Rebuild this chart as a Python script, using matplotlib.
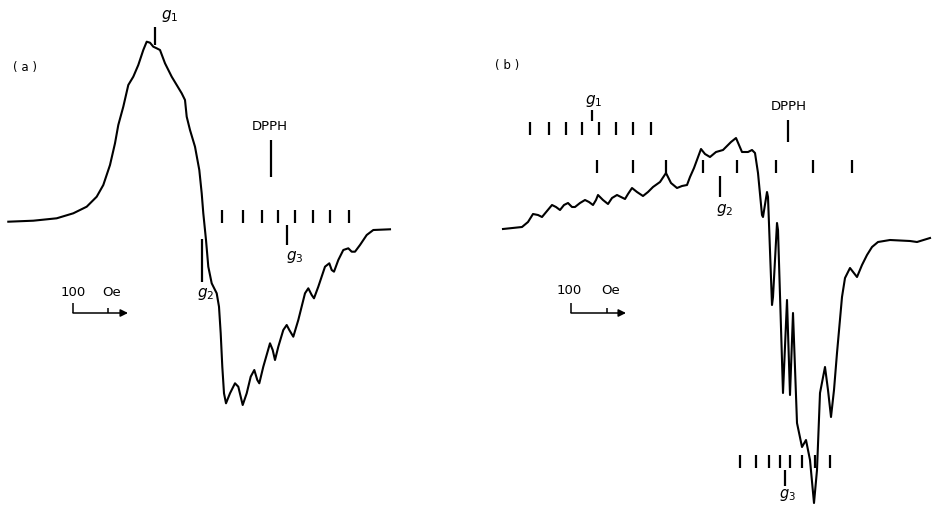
import matplotlib
matplotlib.use("Agg")
import matplotlib.pyplot as plt
import numpy as np

# traced spectra, in picture units (field -> right, signal -> down)
field_a = [8.3, 33.3, 56.7, 73.3, 86.7, 96.7, 103.3, 110, 115, 118.3, 123.3, 128.3, 133.3,
           138.3, 143.3, 146.7, 150, 153.3, 156.7, 160, 165, 171.7, 176.7, 181.7, 185, 186.7,
           190, 195, 199.3, 201.7, 203.3, 206, 208.3, 211.7, 216.7, 219, 220.7, 222.3, 224,
           226, 230, 235, 238.3, 242.7, 246.7, 250.7, 254.3, 257.3, 259.3, 263.3, 270, 272.7,
           275, 278.3, 283.3, 286.7, 289.3, 293.3, 298.3, 305, 308.3, 311.7, 314, 318.3, 325,
           329.3, 331.7, 334, 338.3, 343.3, 348.3, 351.7, 355, 360, 366.7, 373.3, 390]
signal_a = [221.7, 220.7, 218.3, 213.3, 206.7, 196.7, 185, 165, 143.3, 125, 106.7, 85, 76.7,
            65, 50, 41.7, 42.7, 46.7, 48.3, 50, 63.3, 76.7, 85, 93.3, 100, 116.7,
            130, 146.7, 170, 193.3, 213.3, 240, 266.7, 283.3, 293.3, 306.7, 333.3, 366.7, 393.3,
            403.3, 393.3, 383.3, 386.7, 405, 393.3, 376.7, 370, 380, 383.3, 366.7, 343.3, 350,
            360, 346.7, 330, 325, 330, 336.7, 320, 293.3, 288.3, 295, 298.3, 286.7, 266.7,
            263.3, 270, 271.7, 260, 250, 248.3, 251.7, 251.7, 245, 235, 230, 229.3]

field_b = [503, 522, 528, 533, 538, 542, 547, 552, 556, 560, 564, 568, 572, 575, 580, 585, 589,
           593, 596, 598, 603, 608, 612, 617, 621, 625, 628, 632, 637, 643, 648, 653, 660, 666,
           671, 677, 682, 687, 690, 694, 701, 705, 710, 716, 723, 731, 736, 742, 748, 752, 755,
           758, 762, 763, 767, 768, 772, 773, 777, 778, 783, 787, 790, 793, 797, 802, 806, 810,
           814, 817, 820, 825, 828, 831, 834, 837, 842, 845, 850, 857, 862, 867, 872, 878, 890,
           910, 917, 930]
signal_b = [229, 227, 222, 214, 215, 217, 211, 205, 207, 210, 205, 203, 207, 207, 203, 200, 202,
            205, 200, 195, 200, 204, 198, 195, 197, 199, 194, 188, 192, 196, 192, 187, 182, 173,
            183, 188, 186, 185, 177, 168, 149, 154, 157, 152, 150, 142, 138, 152, 152, 150, 153,
            173, 215, 217, 192, 197, 305, 297, 223, 230, 393, 300, 395, 313, 423, 447, 440, 460,
            503, 470, 393, 367, 390, 417, 390, 353, 297, 278, 268, 277, 265, 255, 247, 242, 240,
            241, 242, 238]

# hyperfine stick positions
ticks_a = [222, 243, 262, 278, 295, 313, 330, 349]
ticks_b_upper = [530, 549, 566, 582, 599, 616, 633, 651]
ticks_b_lower = [597, 633, 666, 703, 737, 776, 813, 852]
ticks_b_g3 = [740, 756, 769, 780, 790, 802, 815, 830]

FONT = "DejaVu Sans"

fig = plt.figure(figsize=(9.32, 5.05), dpi=100)
ax = fig.add_axes([0, 0, 1, 1])
ax.set_xlim(0, 932)
ax.set_ylim(505, 0)
ax.axis("off")

ax.plot(field_a, signal_a, color="black", lw=1.5, solid_joinstyle="round")
ax.plot(field_b, signal_b, color="black", lw=1.5, solid_joinstyle="round")

# ---- panel (a) annotations
ax.text(13, 68, "( a )", fontsize=8.5, family=FONT, va="center")
ax.vlines(155, 27, 45, color="black", lw=1.6)
ax.text(161, 16, "$g_1$", fontsize=11, va="center")
ax.text(270, 127, "DPPH", fontsize=9.5, family=FONT, ha="center", va="center")
ax.vlines(271, 140, 177, color="black", lw=1.6)
ax.vlines(ticks_a, 210, 223, color="black", lw=1.6)
ax.vlines(287, 225, 245, color="black", lw=1.6)
ax.text(286, 257, "$g_3$", fontsize=11, va="center")
ax.vlines(202, 239, 282, color="black", lw=1.6)
ax.text(197, 294, "$g_2$", fontsize=11, va="center")

# scale bar (a)
ax.text(61, 292, "100", fontsize=9.5, family=FONT, va="center")
ax.text(102, 292, "Oe", fontsize=9.5, family=FONT, va="center")
ax.vlines([73], 303, 313, color="black", lw=1.1)
ax.vlines([108], 308, 313, color="black", lw=1.1)
ax.annotate("", xy=(128, 313), xytext=(73, 313),
            arrowprops=dict(arrowstyle="-|>", lw=1.1, color="black", mutation_scale=11,
                            shrinkA=0, shrinkB=0))

# ---- panel (b) annotations
ax.text(495, 66, "( b )", fontsize=8.5, family=FONT, va="center")
ax.text(585, 101, "$g_1$", fontsize=11, va="center")
ax.vlines(592, 110, 121, color="black", lw=1.6)
ax.vlines(ticks_b_upper, 122, 135, color="black", lw=1.6)
ax.text(789, 107, "DPPH", fontsize=9.5, family=FONT, ha="center", va="center")
ax.vlines(788, 120, 142, color="black", lw=1.6)
ax.vlines(ticks_b_lower, 160, 173, color="black", lw=1.6)
ax.vlines(720, 176, 197, color="black", lw=1.6)
ax.text(716, 210, "$g_2$", fontsize=11, va="center")
ax.vlines(ticks_b_g3, 455, 468, color="black", lw=1.6)
ax.vlines(785, 470, 486, color="black", lw=1.6)
ax.text(779, 495, "$g_3$", fontsize=10.5, va="center")

# scale bar (b)
ax.text(557, 290, "100", fontsize=9.5, family=FONT, va="center")
ax.text(601, 290, "Oe", fontsize=9.5, family=FONT, va="center")
ax.vlines([571], 303, 313, color="black", lw=1.1)
ax.vlines([607], 308, 313, color="black", lw=1.1)
ax.annotate("", xy=(626, 313), xytext=(571, 313),
            arrowprops=dict(arrowstyle="-|>", lw=1.1, color="black", mutation_scale=11,
                            shrinkA=0, shrinkB=0))

fig.savefig("out.png", dpi=100)
